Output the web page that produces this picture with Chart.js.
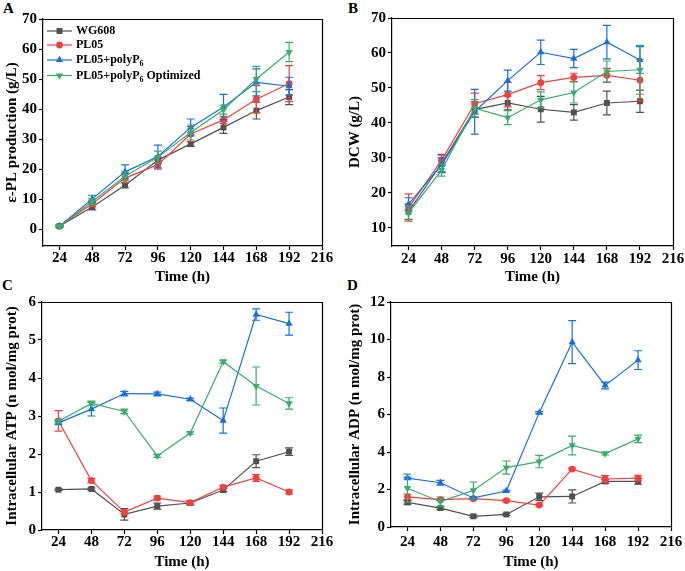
<!DOCTYPE html>
<html><head><meta charset="utf-8">
<script src="https://cdn.jsdelivr.net/npm/chart.js@4.4.0/dist/chart.umd.min.js"></script>
<style>
html,body{margin:0;padding:0;background:#fff;}
body{width:685px;height:571px;position:relative;overflow:hidden;}
canvas{position:absolute;}
.lbl{position:absolute;font:bold 15px "Liberation Serif","Times New Roman",serif;color:#000;line-height:15px;}
</style></head><body>
<div class="lbl" style="left:3px;top:1px">A</div>
<div class="lbl" style="left:348px;top:1px">B</div>
<div class="lbl" style="left:2px;top:278px">C</div>
<div class="lbl" style="left:347px;top:278px">D</div>
<canvas id="cA"></canvas>
<canvas id="cB"></canvas>
<canvas id="cC"></canvas>
<canvas id="cD"></canvas>
<script>
// ---------------- data ----------------
const timeH = [24, 48, 72, 96, 120, 144, 168, 192];
const xTickLabels = [24, 48, 72, 96, 120, 144, 168, 192, 216];
const seriesNames = ["WG608", "PL05", "PL05+polyP6", "PL05+polyP6 Optimized"];

// Panel A: ε-PL production (g/L)
const eplWG608 = [1.0, 7.4, 14.6, 23.0, 28.4, 33.9, 39.5, 44.0];
const eplWG608Err = [0.3, 1.0, 0.8, 1.0, 0.8, 2.0, 2.8, 2.5];
const eplPL05 = [1.0, 8.5, 17.0, 21.5, 31.7, 36.4, 43.3, 48.5];
const eplPL05Err = [0.3, 1.0, 1.5, 1.5, 2.5, 1.2, 4.5, 6.0];
const eplPolyP6 = [1.0, 10.1, 19.1, 24.2, 33.9, 40.7, 48.9, 47.6];
const eplPolyP6Err = [0.3, 1.2, 2.3, 3.8, 2.8, 4.2, 4.5, 3.0];
const eplOptimized = [1.0, 9.2, 17.6, 24.0, 32.2, 39.8, 50.0, 59.0];
const eplOptimizedErr = [0.3, 1.0, 1.5, 2.0, 2.5, 1.5, 4.2, 3.2];
const eplTicks = [0, 10, 20, 30, 40, 50, 60, 70];

// Panel B: DCW (g/L)
const dcwWG608 = [14.6, 28.4, 43.8, 45.7, 43.9, 43.0, 45.7, 46.2];
const dcwWG608Err = [2.2, 2.6, 2.2, 2.0, 3.7, 2.2, 3.4, 3.2];
const dcwPL05 = [15.8, 29.3, 45.5, 48.1, 51.5, 53.0, 53.6, 52.2];
const dcwPL05Err = [3.9, 1.5, 3.0, 3.5, 2.0, 1.2, 2.0, 6.0];
const dcwPolyP6 = [16.8, 28.0, 43.2, 52.1, 60.2, 58.4, 63.1, 58.0];
const dcwPolyP6Err = [1.8, 2.0, 6.4, 3.0, 3.5, 2.6, 4.8, 3.8];
const dcwOptimized = [14.3, 26.5, 44.2, 41.5, 46.6, 48.7, 54.7, 55.2];
const dcwOptimizedErr = [2.0, 1.7, 2.5, 2.0, 2.3, 3.0, 3.0, 7.0];
const dcwTicks = [10, 20, 30, 40, 50, 60, 70];

// Panel C: Intracellular ATP (n mol/mg prot)
const atpWG608 = [1.06, 1.08, 0.41, 0.63, 0.71, 1.05, 1.81, 2.06];
const atpWG608Err = [0.02, 0.03, 0.15, 0.08, 0.05, 0.04, 0.17, 0.10];
const atpPL05 = [2.87, 1.30, 0.47, 0.84, 0.72, 1.13, 1.37, 1.00];
const atpPL05Err = [0.27, 0.06, 0.05, 0.05, 0.04, 0.04, 0.09, 0.05];
const atpPolyP6 = [2.82, 3.18, 3.59, 3.58, 3.44, 2.88, 5.67, 5.43];
const atpPolyP6Err = [0.05, 0.18, 0.06, 0.05, 0.03, 0.33, 0.15, 0.30];
const atpOptimized = [2.86, 3.33, 3.12, 1.95, 2.55, 4.43, 3.79, 3.33];
const atpOptimizedErr = [0.05, 0.06, 0.06, 0.04, 0.03, 0.04, 0.50, 0.15];
const atpTicks = [0, 1, 2, 3, 4, 5, 6];

// Panel D: Intracellular ADP (n mol/mg prot)
const adpWG608 = [1.31, 1.01, 0.57, 0.67, 1.61, 1.63, 2.43, 2.43];
const adpWG608Err = [0.10, 0.08, 0.06, 0.05, 0.20, 0.35, 0.10, 0.15];
const adpPL05 = [1.61, 1.46, 1.51, 1.41, 1.17, 3.09, 2.56, 2.61];
const adpPL05Err = [0.15, 0.06, 0.05, 0.07, 0.05, 0.05, 0.18, 0.15];
const adpPolyP6 = [2.61, 2.36, 1.55, 1.92, 6.10, 9.86, 7.55, 8.90];
const adpPolyP6Err = [0.05, 0.13, 0.05, 0.05, 0.05, 1.15, 0.18, 0.50];
const adpOptimized = [2.07, 1.35, 1.95, 3.17, 3.49, 4.35, 3.92, 4.70];
const adpOptimizedErr = [0.75, 0.25, 0.45, 0.35, 0.33, 0.50, 0.08, 0.20];
const adpTicks = [0, 2, 4, 6, 8, 10, 12];

// ---------------- styling ----------------
const COLORS = ["#515151", "#F14040", "#1A6FDF", "#37AD6B"];
const STYLES = [
  {pointStyle: "rect", radius: 4.2, rotation: 0},
  {pointStyle: "circle", radius: 3.4, rotation: 0},
  {pointStyle: "triangle", radius: 4.2, rotation: 0},
  {pointStyle: "triangle", radius: 4.2, rotation: 180}
];
const FONT = '"Liberation Serif","Times New Roman",serif';

const errorBarPlugin = {
  id: "errorBars",
  afterDatasetDraw(chart, args) {
    const ds = chart.data.datasets[args.index];
    if (!ds.errorBars) return;
    const y = chart.scales.y, ctx = chart.ctx;
    ctx.save();
    ctx.strokeStyle = ds.borderColor;
    ctx.lineWidth = 1.2;
    args.meta.data.forEach((pt, i) => {
      const v = ds.data[i].y, e = ds.errorBars[i];
      const x = pt.x, yt = y.getPixelForValue(v + e), yb = y.getPixelForValue(v - e);
      ctx.beginPath();
      ctx.moveTo(x, yt); ctx.lineTo(x, yb);
      ctx.moveTo(x - 4, yt); ctx.lineTo(x + 4, yt);
      ctx.moveTo(x - 4, yb); ctx.lineTo(x + 4, yb);
      ctx.stroke();
    });
    ctx.restore();
  }
};

const framePlugin = {
  id: "frame",
  afterDraw(chart) {
    const a = chart.chartArea, ctx = chart.ctx;
    ctx.save();
    ctx.strokeStyle = "#000";
    ctx.lineWidth = 1.2;
    ctx.beginPath();
    ctx.moveTo(a.left, a.top + 0.5); ctx.lineTo(a.right + 0.5, a.top + 0.5);
    ctx.lineTo(a.right + 0.5, a.bottom);
    ctx.stroke();
    ctx.restore();
  }
};

function drawMarker(ctx, idx, x, y) {
  const st = STYLES[idx];
  ctx.fillStyle = COLORS[idx];
  ctx.beginPath();
  if (st.pointStyle === "rect") {
    const s = st.radius * Math.SQRT1_2;
    ctx.rect(x - s, y - s, 2 * s, 2 * s);
  } else if (st.pointStyle === "circle") {
    ctx.arc(x, y, st.radius, 0, Math.PI * 2);
  } else {
    const r = st.radius, d = st.rotation ? -1 : 1;
    ctx.moveTo(x, y - d * r);
    ctx.lineTo(x + r * 0.866, y + d * r / 2);
    ctx.lineTo(x - r * 0.866, y + d * r / 2);
    ctx.closePath();
  }
  ctx.fill();
}

const legendPlugin = {
  id: "innerLegend",
  afterDraw(chart, args, opts) {
    if (!opts || !opts.show) return;
    const ctx = chart.ctx;
    const rows = [31, 45, 60, 75.5];
    ctx.save();
    seriesNames.forEach((name, i) => {
      const y = rows[i];
      ctx.strokeStyle = COLORS[i];
      ctx.lineWidth = 1.2;
      ctx.beginPath(); ctx.moveTo(47, y); ctx.lineTo(72, y); ctx.stroke();
      drawMarker(ctx, i, 59.5, y);
      ctx.fillStyle = "#000";
      ctx.textBaseline = "middle";
      ctx.textAlign = "left";
      const main = "bold 12px " + FONT, sub = "bold 8px " + FONT;
      const m = name.match(/^(.*polyP)6(.*)$/);
      if (m) {
        ctx.font = main; ctx.fillText(m[1], 76, y);
        let x = 76 + ctx.measureText(m[1]).width;
        ctx.font = sub; ctx.fillText("6", x, y + 4);
        x += ctx.measureText("6").width;
        ctx.font = main; ctx.fillText(m[2], x, y);
      } else {
        ctx.font = main; ctx.fillText(name, 76, y);
      }
    });
    ctx.restore();
  }
};

function makePanel(id, cfg) {
  const cv = document.getElementById(id);
  cv.width = cfg.w; cv.height = cfg.h;
  cv.style.left = cfg.left + "px"; cv.style.top = cfg.top + "px";
  cv.style.width = cfg.w + "px"; cv.style.height = cfg.h + "px";
  const datasets = cfg.series.map((s, i) => ({
    label: seriesNames[i],
    data: timeH.map((t, k) => ({x: t, y: s[0][k]})),
    errorBars: s[1],
    borderColor: COLORS[i],
    backgroundColor: COLORS[i],
    pointBackgroundColor: COLORS[i],
    pointBorderColor: COLORS[i],
    pointBorderWidth: 0,
    pointStyle: STYLES[i].pointStyle,
    pointRadius: STYLES[i].radius,
    pointRotation: STYLES[i].rotation,
    borderWidth: 1.2,
    tension: 0,
    fill: false,
    order: 3 - i
  }));
  const tickFont = {family: FONT, size: 15, weight: "bold"};
  const titleFont = {family: FONT, size: 15, weight: "bold"};
  return new Chart(cv, {
    type: "line",
    data: {datasets},
    plugins: [errorBarPlugin, framePlugin, legendPlugin],
    options: {
      responsive: false,
      devicePixelRatio: 1,
      animation: false,
      layout: {padding: {left: 0, top: cfg.padTop, right: cfg.padRight, bottom: 0}},
      plugins: {legend: {display: false}, tooltip: {enabled: false}, innerLegend: {show: !!cfg.legend}},
      scales: {
        x: {
          type: "linear", min: 12, max: 216,
          afterBuildTicks: s => { s.ticks = xTickLabels.map(v => ({value: v})); },
          afterFit: s => { s.height = cfg.xAxisH; },
          ticks: {font: tickFont, color: "#000", padding: cfg.xTickPad, autoSkip: false, maxRotation: 0, callback: v => String(v)},
          grid: {display: true, drawOnChartArea: false, drawTicks: true, tickLength: 4, tickWidth: 1.2, tickColor: "#000"},
          border: {display: true, color: "#000", width: 1.2},
          title: {display: true, text: "Time (h)", font: titleFont, color: "#000", padding: {top: 0, bottom: cfg.xTitlePad}}
        },
        y: {
          type: "linear", min: cfg.yMin, max: cfg.yMax,
          afterBuildTicks: s => { s.ticks = cfg.yTicks.map(v => ({value: v})); },
          afterFit: s => { s.width = cfg.yAxisW; },
          ticks: {font: tickFont, color: "#000", padding: 2, autoSkip: false, callback: v => String(v)},
          grid: {display: true, drawOnChartArea: false, drawTicks: true, tickLength: 4, tickWidth: 1.2, tickColor: "#000"},
          border: {display: true, color: "#000", width: 1.2},
          title: {display: true, text: cfg.yTitle, font: titleFont, color: "#000", padding: {top: cfg.yTitlePad, bottom: 0}}
        }
      }
    }
  });
}

makePanel("cA", {
  left: 0, top: 0, w: 335, h: 290, padTop: 19, padRight: 13, yAxisW: 43, xAxisH: 44,
  xTickPad: -1, xTitlePad: 4, yTitlePad: 3, yMin: -5.6, yMax: 70, yTicks: eplTicks,
  yTitle: "ε-PL production (g/L)", legend: true,
  series: [[eplWG608, eplWG608Err], [eplPL05, eplPL05Err], [eplPolyP6, eplPolyP6Err], [eplOptimized, eplOptimizedErr]]
});
makePanel("cB", {
  left: 340, top: 0, w: 345, h: 290, padTop: 18, padRight: 12, yAxisW: 52, xAxisH: 44,
  xTickPad: 0, xTitlePad: 4, yTitlePad: 6, yMin: 4.8, yMax: 70, yTicks: dcwTicks,
  yTitle: "DCW (g/L)",
  series: [[dcwWG608, dcwWG608Err], [dcwPL05, dcwPL05Err], [dcwPolyP6, dcwPolyP6Err], [dcwOptimized, dcwOptimizedErr]]
});
makePanel("cC", {
  left: 0, top: 285, w: 335, h: 286, padTop: 17, padRight: 13, yAxisW: 42, xAxisH: 41,
  xTickPad: -1, xTitlePad: 0, yTitlePad: 3, yMin: 0, yMax: 6, yTicks: atpTicks,
  yTitle: "Intracellular ATP (n mol/mg prot)",
  series: [[atpWG608, atpWG608Err], [atpPL05, atpPL05Err], [atpPolyP6, atpPolyP6Err], [atpOptimized, atpOptimizedErr]]
});
makePanel("cD", {
  left: 340, top: 285, w: 345, h: 286, padTop: 17, padRight: 14, yAxisW: 51, xAxisH: 44,
  xTickPad: 2, xTitlePad: 0, yTitlePad: 6, yMin: 0, yMax: 12, yTicks: adpTicks,
  yTitle: "Intracellular ADP (n mol/mg prot)",
  series: [[adpWG608, adpWG608Err], [adpPL05, adpPL05Err], [adpPolyP6, adpPolyP6Err], [adpOptimized, adpOptimizedErr]]
});
</script>
</body></html>
